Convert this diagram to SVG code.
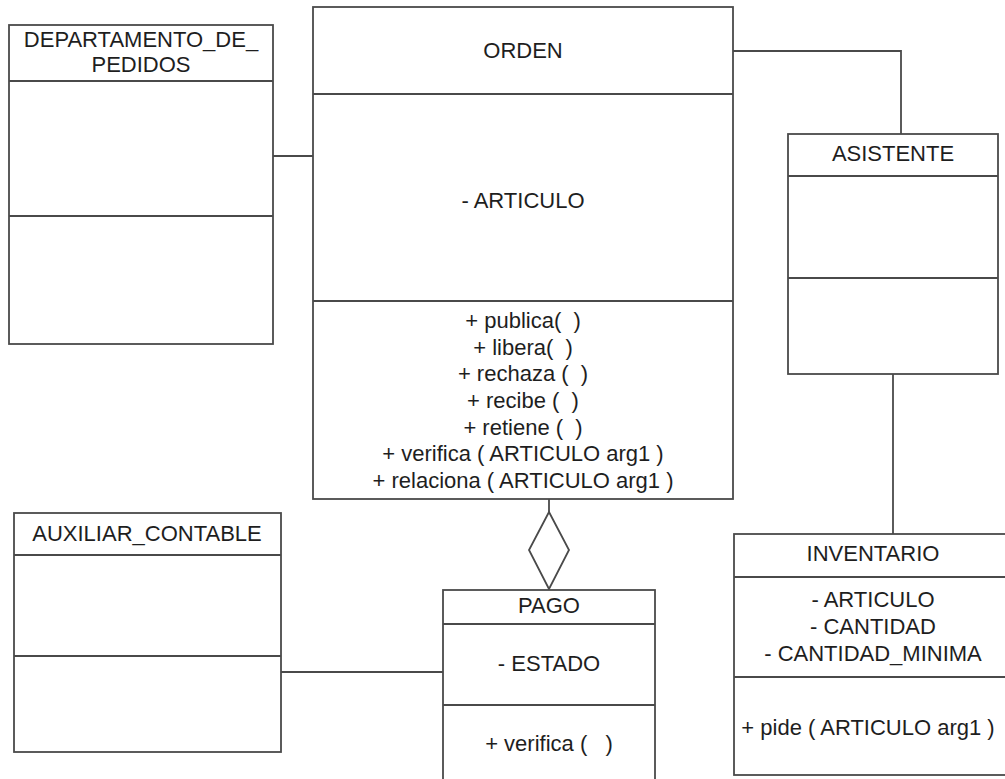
<svg xmlns="http://www.w3.org/2000/svg" width="1005" height="779" viewBox="0 0 1005 779">
<style>
.box{fill:#fff;stroke:#4a4a4a;stroke-width:1.8}
.ln{stroke:#4a4a4a;stroke-width:1.8;fill:none}
.t{font-family:"Liberation Sans",Arial,sans-serif;font-size:22px;fill:#1e1e1e;text-anchor:middle;white-space:pre}
</style>
<rect width="1005" height="779" fill="#fff"/>
<g id="connectors">
<line class="ln" x1="273" y1="156" x2="313" y2="156"/>
<polyline class="ln" points="733,51 901,51 901,134"/>
<line class="ln" x1="893" y1="374" x2="893" y2="534"/>
<line class="ln" x1="281" y1="672" x2="443" y2="672"/>
<line class="ln" x1="549" y1="499" x2="549" y2="512"/>
<polygon class="box" points="549,512 569,550 549,589 529,550"/>
</g>
<g id="departamento">
<rect class="box" x="9" y="25" width="264" height="319"/>
<line class="ln" x1="9" y1="81" x2="273" y2="81"/>
<line class="ln" x1="9" y1="216" x2="273" y2="216"/>
<text class="t" x="141" y="47">DEPARTAMENTO_DE_</text>
<text class="t" x="141" y="72">PEDIDOS</text>
</g>
<g id="orden">
<rect class="box" x="313" y="7" width="420" height="492"/>
<line class="ln" x1="313" y1="94" x2="733" y2="94"/>
<line class="ln" x1="313" y1="301" x2="733" y2="301"/>
<text class="t" x="523" y="58">ORDEN</text>
<text class="t" x="523" y="208">- ARTICULO</text>
<text class="t" x="523" y="328" xml:space="preserve">+ publica(  )</text>
<text class="t" x="523" y="355" xml:space="preserve">+ libera(  )</text>
<text class="t" x="523" y="381" xml:space="preserve">+ rechaza (  )</text>
<text class="t" x="523" y="408" xml:space="preserve">+ recibe (  )</text>
<text class="t" x="523" y="435" xml:space="preserve">+ retiene (  )</text>
<text class="t" x="523" y="461">+ verifica ( ARTICULO arg1 )</text>
<text class="t" x="523" y="488">+ relaciona ( ARTICULO arg1 )</text>
</g>
<g id="asistente">
<rect class="box" x="788" y="134" width="210" height="240"/>
<line class="ln" x1="788" y1="176" x2="998" y2="176"/>
<line class="ln" x1="788" y1="278" x2="998" y2="278"/>
<text class="t" x="893" y="161">ASISTENTE</text>
</g>
<g id="auxiliar">
<rect class="box" x="14" y="513" width="267" height="239"/>
<line class="ln" x1="14" y1="555" x2="281" y2="555"/>
<line class="ln" x1="14" y1="656" x2="281" y2="656"/>
<text class="t" x="147" y="541">AUXILIAR_CONTABLE</text>
</g>
<g id="pago">
<rect class="box" x="443" y="590" width="212" height="200"/>
<line class="ln" x1="443" y1="624" x2="655" y2="624"/>
<line class="ln" x1="443" y1="705" x2="655" y2="705"/>
<text class="t" x="549" y="613">PAGO</text>
<text class="t" x="549" y="671">- ESTADO</text>
<text class="t" x="549" y="751" xml:space="preserve">+ verifica (   )</text>
</g>
<g id="inventario">
<rect class="box" x="734" y="534" width="272" height="241"/>
<line class="ln" x1="734" y1="577" x2="1006" y2="577"/>
<line class="ln" x1="734" y1="677" x2="1006" y2="677"/>
<text class="t" x="873" y="561">INVENTARIO</text>
<text class="t" x="873" y="607">- ARTICULO</text>
<text class="t" x="873" y="634">- CANTIDAD</text>
<text class="t" x="873" y="661">- CANTIDAD_MINIMA</text>
<text class="t" x="868" y="735">+ pide ( ARTICULO arg1 )</text>
</g>
</svg>
